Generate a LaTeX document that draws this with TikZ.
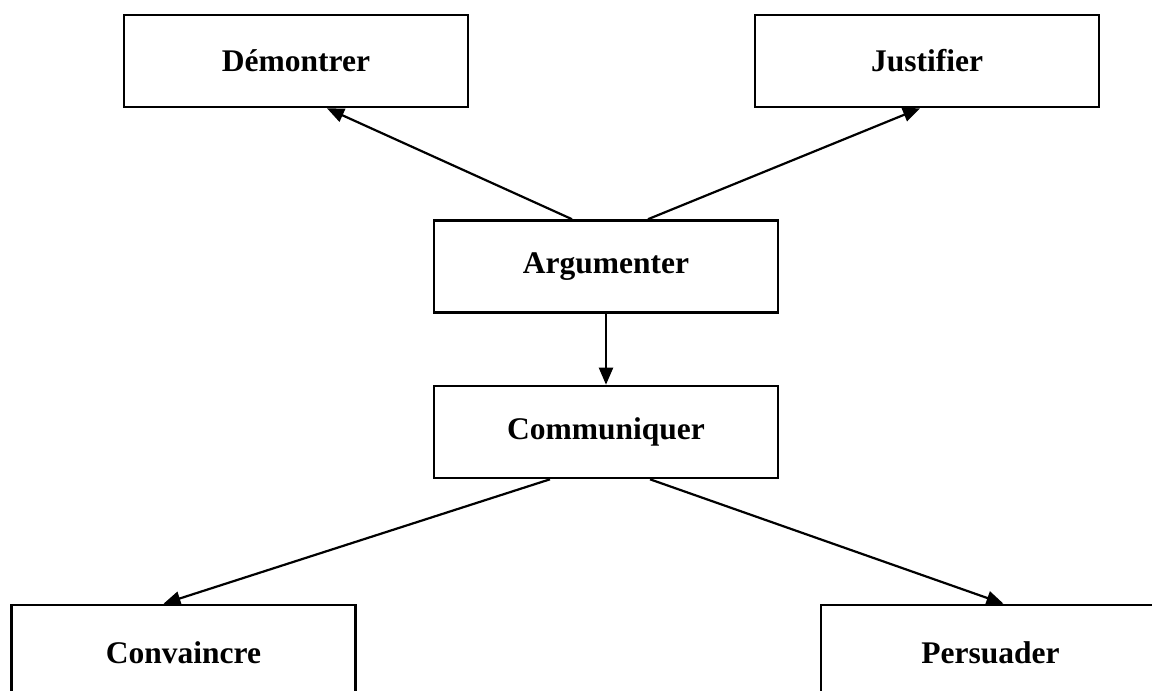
\documentclass[tikz,border=0pt]{standalone}
\usepackage{fontspec}
\setmainfont{Liberation Serif}
\usetikzlibrary{arrows.meta}
\begin{document}
\begin{tikzpicture}[x=1pt,y=-1pt,
  box/.style={draw=black,line width=2.6pt,rectangle,minimum width=344pt,minimum height=92pt,inner sep=0pt,
    font=\fontsize{31.5}{36}\selectfont\bfseries},
  conn/.style={line width=2.2pt,-{Triangle[length=17pt,width=14pt]}}]
\useasboundingbox (0,0) rectangle (1152,691);
\clip (0,0) rectangle (1152,691);
\node[box] (dem) at (296,61) {Démontrer};
\node[box] (jus) at (927,61) {Justifier};
\node[box] (arg) at (606,266.5) {Argumenter};
\node[box] (com) at (606,432) {Communiquer};
\node[box,minimum height=96pt] (con) at (183.5,653) {Convaincre};
\node[box,minimum height=96pt,minimum width=339pt] (per) at (990.5,653) {Persuader};
\draw[conn] ([xshift=-34pt]arg.north) -- ([xshift=31pt]dem.south);
\draw[conn] ([xshift=42pt]arg.north) -- ([xshift=-7pt]jus.south);
\draw[conn] (arg.south) -- (com.north);
\draw[conn] ([xshift=-56pt]com.south) -- ([xshift=-20pt]con.north);
\draw[conn] ([xshift=44pt]com.south) -- ([xshift=13pt]per.north);
\end{tikzpicture}
\end{document}
